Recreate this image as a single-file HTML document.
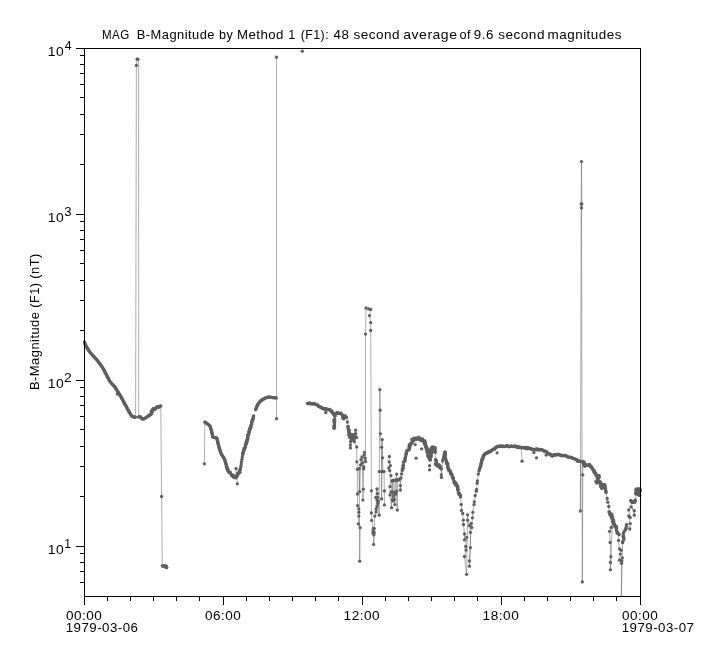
<!DOCTYPE html>
<html><head><meta charset="utf-8"><title>MAG B-Magnitude</title>
<style>
html,body{margin:0;padding:0;background:#fefefe;}
body{width:724px;height:656px;overflow:hidden;position:relative;font-family:"Liberation Sans",sans-serif;}
</style></head><body>
<svg width="724" height="656" viewBox="0 0 724 656" style="display:block;position:absolute;left:0;top:0;will-change:transform">
<rect x="0" y="0" width="724" height="656" fill="#fefefe"/>
<g fill="none" stroke="#5f5f5f" stroke-width="0.5" stroke-linejoin="bevel" stroke-linecap="butt">
<polyline points="84.5,342.0 85.3,344.5 87.5,348.5 89.9,352.1 93.3,356.0 96.8,359.7 100.0,364.0 102.9,368.1 106.0,374.0 109.7,381.1 112.5,384.5 115.1,387.2 118.0,392.0 121.2,397.1 124.0,402.5 127.3,408.5 129.5,412.5 131.8,416.1 133.5,417.0 135.6,417.2 136.4,65.4 137.1,59.2 137.9,59.2"/>
<polyline points="138.7,417.0 140.2,416.6 141.5,418.2 142.8,419.2 145.0,418.2 147.1,416.9 149.5,415.0 151.6,413.1 151.8,410.3 154.0,409.0 156.2,407.7 158.5,406.8 160.8,406.0 161.6,496.5 162.3,566.0 164.0,566.0 165.7,566.0 166.5,567.3"/>
<polyline points="204.4,463.8 204.8,422.0 207.0,423.5 209.9,425.8 211.3,430.0 213.0,437.3 216.8,438.0 218.5,445.0 220.6,452.5 222.5,456.0 224.4,458.6 226.0,464.0 227.4,469.3 229.0,472.5 231.3,474.6 233.0,476.6 235.1,476.9 237.0,476.0 238.9,473.1 240.3,470.0 240.9,466.2 241.5,461.6 242.7,454.8 244.2,450.0 245.7,444.9 247.3,439.0 248.8,432.7 250.3,428.0 251.8,422.8 253.7,415.9"/>
<polyline points="255.6,409.8 257.0,406.0 258.7,403.0 261.0,400.6 263.3,399.1 266.0,397.8 268.6,396.9 272.0,397.6 276.4,397.9"/>
<polyline points="307.5,403.3 311.0,403.4 314.4,403.9 317.5,405.3 320.5,407.4 323.5,408.6 325.9,409.2 328.5,409.4 330.5,410.1 332.5,412.6 334.1,415.1 334.6,419.2 333.8,420.6 334.8,421.6 334.1,422.4 334.6,424.0 334.1,425.6 333.8,427.0 334.5,427.2 334.1,428.4 334.6,416.0 336.0,413.4 337.8,412.8 340.0,413.2 341.9,414.2 343.8,418.8 344.8,416.0 346.5,417.4 347.4,422.0 347.9,426.6 348.8,431.1 349.2,435.3 350.2,437.5 351.3,435.6 352.4,434.8 353.3,436.0 354.3,437.5 355.4,436.5 355.6,430.2 355.6,433.4 356.6,437.5 354.3,441.7 356.7,447.0 356.9,461.8 357.4,469.3 357.4,494.0 357.6,505.6 358.8,508.8 358.8,512.2 358.8,516.1 358.3,523.9 360.1,527.7 359.7,561.2 359.2,468.5 359.7,491.7 360.6,465.0 361.0,459.7 362.0,456.9 362.4,462.9 362.9,500.1 363.3,489.2 363.6,468.8 363.8,467.0 364.2,455.1 364.4,452.4 365.2,458.3 365.5,461.5 365.5,334.1 366.0,308.0 368.7,308.9 370.7,309.5 369.5,315.6 370.7,322.6 370.7,330.5 371.4,490.8 371.4,512.9 371.6,520.4 373.4,528.4 372.9,533.0 373.9,534.8 373.6,544.4 374.8,516.1 376.1,512.0 376.1,509.2 376.6,497.3 375.7,497.6 377.0,489.0 377.5,493.7 378.4,501.4 379.2,515.2 379.3,471.6 379.8,389.6 380.2,410.2 380.4,433.8 381.6,447.3 381.6,471.6 381.6,498.9 382.2,439.6 382.5,457.8 383.0,471.6 384.0,471.6 384.4,490.9 384.4,504.9"/>
<polyline points="389.4,456.5 389.2,462.0 390.4,465.6 388.8,468.0 389.7,470.7 390.9,475.6 390.0,486.6 390.0,494.9 391.6,507.7 392.0,481.0 392.5,499.8 393.0,480.5 393.7,480.2 394.3,492.4 394.9,504.6 395.4,480.5 396.0,480.0 396.7,474.1 396.7,491.2 397.3,510.1 397.3,480.2 398.2,480.0 399.0,479.5 399.8,479.0 400.4,485.7 400.4,490.0 400.9,478.0 401.6,474.0 402.2,470.5 403.3,466.6 404.2,461.1 405.6,456.5 406.5,452.0 409.2,449.7 409.2,445.6 411.5,443.3 413.4,439.1 416.0,438.5 418.9,438.7 422.5,440.1 425.3,443.3 426.6,447.8 427.1,452.0 428.9,456.5 429.8,459.3 430.7,454.7 431.7,448.3 433.3,447.9 434.9,448.3 435.3,452.0 435.6,459.7 436.7,464.8 439.4,465.2 441.1,468.3 441.3,474.8 441.5,477.4 442.6,461.1 443.5,458.3 444.4,453.5 444.8,452.2 445.3,454.0 445.3,457.0 446.6,462.0 448.4,468.7 450.9,472.9 453.3,479.6 455.2,483.0 457.0,486.3 459.4,493.7 460.6,496.7 461.2,504.6 461.5,510.5 462.7,513.5 463.3,520.2 463.5,524.5 464.5,534.0 464.5,539.8 466.7,537.3 465.7,546.5 466.0,550.1 464.5,556.5 466.6,574.3 467.6,514.8 467.6,520.2 469.4,525.7 470.4,532.4 470.4,547.7 469.4,560.9 469.4,566.2 471.2,523.3 471.8,527.6 472.4,517.8 472.8,512.3 474.0,504.6 474.3,501.8 475.2,495.5 476.3,491.2 476.5,489.4 477.2,483.2 477.4,480.9 478.3,474.1 479.0,471.0 480.1,467.4 482.0,460.1 483.5,456.5 485.0,454.0 487.5,452.5 489.9,451.6 493.5,449.2 497.2,446.7 500.0,446.3 503.3,446.1 510.2,446.3 514.3,446.5 520.9,447.1 525.5,447.8 530.1,448.7 535.4,449.2 540.7,449.7 543.8,450.8 546.8,452.0 549.0,453.9 551.4,455.8 554.5,454.6 557.5,454.3 560.5,455.0 563.6,455.8 567.4,456.5 571.2,457.3 574.9,458.9 578.1,461.2 580.5,461.6 580.4,511.0 581.2,204.0 581.5,161.6 581.8,204.0 581.5,207.9 582.3,581.9 582.8,474.8 582.6,462.0 584.0,462.0 584.6,466.0 587.0,465.3 589.5,464.4 591.6,467.5 593.8,470.5 596.2,475.4 599.3,476.0 596.2,481.5 600.5,482.1 601.7,487.6 604.8,485.1 606.0,492.4 607.2,498.5 607.8,502.2 608.8,506.5 609.0,512.0 611.9,516.0 613.4,520.6 614.2,524.4 613.4,520.6 611.2,527.4 609.6,531.3 610.1,542.4 610.9,556.7 610.4,562.5 610.4,569.8 612.4,521.5 614.2,524.4 616.5,527.4 616.5,530.5 619.1,534.3 618.5,540.4 619.5,548.8 621.1,550.3 620.3,554.1 619.5,560.2 622.3,557.9 621.8,561.0 621.5,563.3 621.4,596.0 622.6,542.7 623.7,538.9 623.4,532.8 625.6,529.7 626.7,524.4 629.8,529.0 630.2,523.6 628.7,516.0 630.2,517.5 628.7,509.9 631.0,506.9 634.3,510.7 634.3,515.2 630.8,500.5 632.5,502.3 634.0,502.2 635.3,500.0 636.0,494.0 637.1,489.0 638.9,494.5 637.5,492.0 639.6,489.0 639.8,495.0"/>
<polyline points="276.5,57.2 276.5,418.7"/>
<polyline points="138.6,60.5 138.7,417.0"/>
<polyline points="236.1,468.5 236.3,476.5"/>
<polyline points="237.3,483.8 237.2,476.0"/>
<polyline points="350.6,439.0 350.4,447.9"/>
<polyline points="521.0,447.2 522.1,461.2"/>
</g>
<g fill="#5f5f5f" stroke="none">
<circle cx="84.5" cy="342.0" r="1.65"/><circle cx="84.8" cy="342.8" r="1.65"/><circle cx="85.0" cy="343.7" r="1.65"/><circle cx="85.3" cy="344.5" r="1.65"/><circle cx="85.7" cy="345.2" r="1.65"/><circle cx="86.0" cy="345.8" r="1.65"/><circle cx="86.4" cy="346.5" r="1.65"/><circle cx="86.8" cy="347.2" r="1.65"/><circle cx="87.1" cy="347.8" r="1.65"/><circle cx="87.5" cy="348.5" r="1.65"/><circle cx="88.0" cy="349.2" r="1.65"/><circle cx="88.5" cy="349.9" r="1.65"/><circle cx="88.9" cy="350.7" r="1.65"/><circle cx="89.4" cy="351.4" r="1.65"/><circle cx="89.9" cy="352.1" r="1.65"/><circle cx="90.5" cy="352.8" r="1.65"/><circle cx="91.0" cy="353.4" r="1.65"/><circle cx="91.6" cy="354.1" r="1.65"/><circle cx="92.2" cy="354.7" r="1.65"/><circle cx="92.7" cy="355.4" r="1.65"/><circle cx="93.3" cy="356.0" r="1.65"/><circle cx="93.9" cy="356.6" r="1.65"/><circle cx="94.5" cy="357.2" r="1.65"/><circle cx="95.0" cy="357.9" r="1.65"/><circle cx="95.6" cy="358.5" r="1.65"/><circle cx="96.2" cy="359.1" r="1.65"/><circle cx="96.8" cy="359.7" r="1.65"/><circle cx="97.3" cy="360.4" r="1.65"/><circle cx="97.9" cy="361.1" r="1.65"/><circle cx="98.4" cy="361.9" r="1.65"/><circle cx="98.9" cy="362.6" r="1.65"/><circle cx="99.5" cy="363.3" r="1.65"/><circle cx="100.0" cy="364.0" r="1.65"/><circle cx="100.5" cy="364.7" r="1.65"/><circle cx="101.0" cy="365.4" r="1.65"/><circle cx="101.5" cy="366.1" r="1.65"/><circle cx="101.9" cy="366.7" r="1.65"/><circle cx="102.4" cy="367.4" r="1.65"/><circle cx="102.9" cy="368.1" r="1.65"/><circle cx="103.3" cy="368.8" r="1.65"/><circle cx="103.7" cy="369.6" r="1.65"/><circle cx="104.1" cy="370.3" r="1.65"/><circle cx="104.5" cy="371.1" r="1.65"/><circle cx="104.8" cy="371.8" r="1.65"/><circle cx="105.2" cy="372.5" r="1.65"/><circle cx="105.6" cy="373.3" r="1.65"/><circle cx="106.0" cy="374.0" r="1.65"/><circle cx="106.4" cy="374.8" r="1.65"/><circle cx="106.8" cy="375.6" r="1.65"/><circle cx="107.2" cy="376.4" r="1.65"/><circle cx="107.6" cy="377.2" r="1.65"/><circle cx="108.1" cy="377.9" r="1.65"/><circle cx="108.5" cy="378.7" r="1.65"/><circle cx="108.9" cy="379.5" r="1.65"/><circle cx="109.3" cy="380.3" r="1.65"/><circle cx="109.7" cy="381.1" r="1.65"/><circle cx="110.3" cy="381.8" r="1.65"/><circle cx="110.8" cy="382.5" r="1.65"/><circle cx="111.4" cy="383.1" r="1.65"/><circle cx="111.9" cy="383.8" r="1.65"/><circle cx="112.5" cy="384.5" r="1.65"/><circle cx="113.0" cy="385.0" r="1.65"/><circle cx="113.5" cy="385.6" r="1.65"/><circle cx="114.1" cy="386.1" r="1.65"/><circle cx="114.6" cy="386.7" r="1.65"/><circle cx="115.1" cy="387.2" r="1.65"/><circle cx="115.5" cy="387.9" r="1.65"/><circle cx="115.9" cy="388.6" r="1.65"/><circle cx="116.3" cy="389.3" r="1.65"/><circle cx="116.8" cy="389.9" r="1.65"/><circle cx="117.2" cy="390.6" r="1.65"/><circle cx="117.6" cy="391.3" r="1.65"/><circle cx="118.0" cy="392.0" r="1.65"/><circle cx="118.5" cy="392.7" r="1.65"/><circle cx="118.9" cy="393.5" r="1.65"/><circle cx="119.4" cy="394.2" r="1.65"/><circle cx="119.8" cy="394.9" r="1.65"/><circle cx="120.3" cy="395.6" r="1.65"/><circle cx="120.7" cy="396.4" r="1.65"/><circle cx="121.2" cy="397.1" r="1.65"/><circle cx="121.6" cy="397.9" r="1.65"/><circle cx="122.0" cy="398.6" r="1.65"/><circle cx="122.4" cy="399.4" r="1.65"/><circle cx="122.8" cy="400.2" r="1.65"/><circle cx="123.2" cy="401.0" r="1.65"/><circle cx="123.6" cy="401.7" r="1.65"/><circle cx="124.0" cy="402.5" r="1.65"/><circle cx="124.4" cy="403.2" r="1.65"/><circle cx="124.8" cy="404.0" r="1.65"/><circle cx="125.2" cy="404.8" r="1.65"/><circle cx="125.7" cy="405.5" r="1.65"/><circle cx="126.1" cy="406.2" r="1.65"/><circle cx="126.5" cy="407.0" r="1.65"/><circle cx="126.9" cy="407.8" r="1.65"/><circle cx="127.3" cy="408.5" r="1.65"/><circle cx="127.7" cy="409.2" r="1.65"/><circle cx="128.0" cy="409.8" r="1.65"/><circle cx="128.4" cy="410.5" r="1.65"/><circle cx="128.8" cy="411.2" r="1.65"/><circle cx="129.1" cy="411.8" r="1.65"/><circle cx="129.5" cy="412.5" r="1.65"/><circle cx="130.0" cy="413.2" r="1.65"/><circle cx="130.4" cy="413.9" r="1.65"/><circle cx="130.9" cy="414.7" r="1.65"/><circle cx="131.3" cy="415.4" r="1.65"/><circle cx="131.8" cy="416.1" r="1.65"/><circle cx="132.4" cy="416.4" r="1.65"/><circle cx="132.9" cy="416.7" r="1.65"/><circle cx="133.5" cy="417.0" r="1.65"/><circle cx="134.2" cy="417.1" r="1.65"/><circle cx="134.9" cy="417.1" r="1.65"/><circle cx="135.6" cy="417.2" r="1.65"/><circle cx="136.4" cy="65.4" r="1.65"/><circle cx="137.1" cy="59.2" r="1.65"/><circle cx="137.9" cy="59.2" r="1.65"/>
<circle cx="138.7" cy="417.0" r="1.65"/><circle cx="139.4" cy="416.8" r="1.65"/><circle cx="140.2" cy="416.6" r="1.65"/><circle cx="140.6" cy="417.1" r="1.65"/><circle cx="141.1" cy="417.7" r="1.65"/><circle cx="141.5" cy="418.2" r="1.65"/><circle cx="142.2" cy="418.7" r="1.65"/><circle cx="142.8" cy="419.2" r="1.65"/><circle cx="143.5" cy="418.9" r="1.65"/><circle cx="144.3" cy="418.5" r="1.65"/><circle cx="145.0" cy="418.2" r="1.65"/><circle cx="145.7" cy="417.8" r="1.65"/><circle cx="146.4" cy="417.3" r="1.65"/><circle cx="147.1" cy="416.9" r="1.65"/><circle cx="147.7" cy="416.4" r="1.65"/><circle cx="148.3" cy="415.9" r="1.65"/><circle cx="148.9" cy="415.5" r="1.65"/><circle cx="149.5" cy="415.0" r="1.65"/><circle cx="149.6" cy="415.1" r="1.65"/><circle cx="150.2" cy="414.8" r="1.65"/><circle cx="151.2" cy="413.7" r="1.65"/><circle cx="151.1" cy="414.3" r="1.65"/><circle cx="151.6" cy="413.1" r="1.65"/><circle cx="151.8" cy="411.9" r="1.65"/><circle cx="151.3" cy="411.4" r="1.65"/><circle cx="152.1" cy="412.0" r="1.65"/><circle cx="151.4" cy="411.4" r="1.65"/><circle cx="151.8" cy="410.3" r="1.65"/><circle cx="152.8" cy="410.3" r="1.65"/><circle cx="152.8" cy="409.7" r="1.65"/><circle cx="153.1" cy="408.5" r="1.65"/><circle cx="154.0" cy="409.0" r="1.65"/><circle cx="155.0" cy="408.9" r="1.65"/><circle cx="155.1" cy="409.1" r="1.65"/><circle cx="155.6" cy="408.7" r="1.65"/><circle cx="156.2" cy="407.7" r="1.65"/><circle cx="157.1" cy="407.0" r="1.65"/><circle cx="157.1" cy="406.9" r="1.65"/><circle cx="157.7" cy="407.2" r="1.65"/><circle cx="158.5" cy="406.8" r="1.65"/><circle cx="158.9" cy="406.5" r="1.65"/><circle cx="159.3" cy="407.1" r="1.65"/><circle cx="160.1" cy="406.1" r="1.65"/><circle cx="160.8" cy="406.0" r="1.65"/><circle cx="161.6" cy="496.5" r="1.65"/><circle cx="162.3" cy="566.0" r="1.65"/><circle cx="164.0" cy="566.0" r="1.65"/><circle cx="165.7" cy="566.0" r="1.65"/><circle cx="166.5" cy="567.3" r="1.65"/>
<circle cx="204.4" cy="463.8" r="1.65"/><circle cx="204.8" cy="422.0" r="1.65"/><circle cx="205.5" cy="422.5" r="1.65"/><circle cx="206.3" cy="423.0" r="1.65"/><circle cx="207.0" cy="423.5" r="1.65"/><circle cx="207.6" cy="424.0" r="1.65"/><circle cx="208.2" cy="424.4" r="1.65"/><circle cx="208.7" cy="424.9" r="1.65"/><circle cx="209.3" cy="425.3" r="1.65"/><circle cx="209.9" cy="425.8" r="1.65"/><circle cx="210.2" cy="426.6" r="1.65"/><circle cx="210.5" cy="427.5" r="1.65"/><circle cx="210.7" cy="428.3" r="1.65"/><circle cx="211.0" cy="429.2" r="1.65"/><circle cx="211.3" cy="430.0" r="1.65"/><circle cx="211.5" cy="430.8" r="1.65"/><circle cx="211.7" cy="431.6" r="1.65"/><circle cx="211.9" cy="432.4" r="1.65"/><circle cx="212.1" cy="433.2" r="1.65"/><circle cx="212.2" cy="434.1" r="1.65"/><circle cx="212.4" cy="434.9" r="1.65"/><circle cx="212.6" cy="435.7" r="1.65"/><circle cx="212.8" cy="436.5" r="1.65"/><circle cx="213.0" cy="437.3" r="1.65"/><circle cx="213.8" cy="437.4" r="1.65"/><circle cx="214.5" cy="437.6" r="1.65"/><circle cx="215.3" cy="437.7" r="1.65"/><circle cx="216.0" cy="437.9" r="1.65"/><circle cx="216.8" cy="438.0" r="1.65"/><circle cx="217.0" cy="438.8" r="1.65"/><circle cx="217.2" cy="439.6" r="1.65"/><circle cx="217.4" cy="440.3" r="1.65"/><circle cx="217.6" cy="441.1" r="1.65"/><circle cx="217.7" cy="441.9" r="1.65"/><circle cx="217.9" cy="442.7" r="1.65"/><circle cx="218.1" cy="443.4" r="1.65"/><circle cx="218.3" cy="444.2" r="1.65"/><circle cx="218.5" cy="445.0" r="1.65"/><circle cx="218.7" cy="445.8" r="1.65"/><circle cx="219.0" cy="446.7" r="1.65"/><circle cx="219.2" cy="447.5" r="1.65"/><circle cx="219.4" cy="448.3" r="1.65"/><circle cx="219.7" cy="449.2" r="1.65"/><circle cx="219.9" cy="450.0" r="1.65"/><circle cx="220.1" cy="450.8" r="1.65"/><circle cx="220.4" cy="451.7" r="1.65"/><circle cx="220.6" cy="452.5" r="1.65"/><circle cx="221.0" cy="453.2" r="1.65"/><circle cx="221.4" cy="453.9" r="1.65"/><circle cx="221.7" cy="454.6" r="1.65"/><circle cx="222.1" cy="455.3" r="1.65"/><circle cx="222.5" cy="456.0" r="1.65"/><circle cx="223.0" cy="456.6" r="1.65"/><circle cx="223.4" cy="457.3" r="1.65"/><circle cx="223.9" cy="458.0" r="1.65"/><circle cx="224.4" cy="458.6" r="1.65"/><circle cx="224.6" cy="459.4" r="1.65"/><circle cx="224.9" cy="460.1" r="1.65"/><circle cx="225.1" cy="460.9" r="1.65"/><circle cx="225.3" cy="461.7" r="1.65"/><circle cx="225.5" cy="462.5" r="1.65"/><circle cx="225.8" cy="463.2" r="1.65"/><circle cx="226.0" cy="464.0" r="1.65"/><circle cx="226.2" cy="464.8" r="1.65"/><circle cx="226.4" cy="465.5" r="1.65"/><circle cx="226.6" cy="466.3" r="1.65"/><circle cx="226.8" cy="467.0" r="1.65"/><circle cx="227.0" cy="467.8" r="1.65"/><circle cx="227.2" cy="468.5" r="1.65"/><circle cx="227.4" cy="469.3" r="1.65"/><circle cx="227.4" cy="468.9" r="1.65"/><circle cx="228.0" cy="469.7" r="1.65"/><circle cx="227.7" cy="470.0" r="1.65"/><circle cx="227.9" cy="470.7" r="1.65"/><circle cx="228.5" cy="471.5" r="1.65"/><circle cx="229.0" cy="472.5" r="1.65"/><circle cx="229.8" cy="472.4" r="1.65"/><circle cx="229.9" cy="472.5" r="1.65"/><circle cx="230.2" cy="472.5" r="1.65"/><circle cx="230.5" cy="472.9" r="1.65"/><circle cx="231.3" cy="474.6" r="1.65"/><circle cx="232.0" cy="475.2" r="1.65"/><circle cx="231.7" cy="475.5" r="1.65"/><circle cx="233.1" cy="475.1" r="1.65"/><circle cx="233.0" cy="476.6" r="1.65"/><circle cx="233.9" cy="476.5" r="1.65"/><circle cx="234.0" cy="477.6" r="1.65"/><circle cx="234.4" cy="476.8" r="1.65"/><circle cx="235.1" cy="476.9" r="1.65"/><circle cx="235.8" cy="477.9" r="1.65"/><circle cx="235.8" cy="477.3" r="1.65"/><circle cx="236.8" cy="476.6" r="1.65"/><circle cx="237.0" cy="476.0" r="1.65"/><circle cx="237.3" cy="475.0" r="1.65"/><circle cx="237.2" cy="473.9" r="1.65"/><circle cx="237.6" cy="474.9" r="1.65"/><circle cx="238.2" cy="472.8" r="1.65"/><circle cx="238.9" cy="473.1" r="1.65"/><circle cx="238.6" cy="473.4" r="1.65"/><circle cx="239.9" cy="472.3" r="1.65"/><circle cx="239.5" cy="470.6" r="1.65"/><circle cx="239.8" cy="470.5" r="1.65"/><circle cx="240.3" cy="470.0" r="1.65"/><circle cx="240.6" cy="468.1" r="1.65"/><circle cx="240.9" cy="466.2" r="1.65"/><circle cx="241.2" cy="463.9" r="1.65"/><circle cx="241.5" cy="461.6" r="1.65"/><circle cx="241.9" cy="459.3" r="1.65"/><circle cx="242.3" cy="457.1" r="1.65"/><circle cx="242.7" cy="454.8" r="1.65"/><circle cx="242.8" cy="453.9" r="1.65"/><circle cx="242.7" cy="453.2" r="1.65"/><circle cx="243.3" cy="452.7" r="1.65"/><circle cx="243.3" cy="452.1" r="1.65"/><circle cx="243.4" cy="451.0" r="1.65"/><circle cx="243.7" cy="450.5" r="1.65"/><circle cx="244.2" cy="450.0" r="1.65"/><circle cx="244.0" cy="448.5" r="1.65"/><circle cx="244.5" cy="448.1" r="1.65"/><circle cx="244.9" cy="447.9" r="1.65"/><circle cx="245.3" cy="447.3" r="1.65"/><circle cx="245.4" cy="447.0" r="1.65"/><circle cx="245.4" cy="445.4" r="1.65"/><circle cx="245.7" cy="444.9" r="1.65"/><circle cx="246.3" cy="443.6" r="1.65"/><circle cx="246.3" cy="443.7" r="1.65"/><circle cx="245.9" cy="443.2" r="1.65"/><circle cx="246.8" cy="442.2" r="1.65"/><circle cx="246.9" cy="441.7" r="1.65"/><circle cx="246.6" cy="440.5" r="1.65"/><circle cx="247.1" cy="440.3" r="1.65"/><circle cx="247.3" cy="439.0" r="1.65"/><circle cx="247.7" cy="438.8" r="1.65"/><circle cx="247.7" cy="438.2" r="1.65"/><circle cx="247.9" cy="437.2" r="1.65"/><circle cx="247.8" cy="435.4" r="1.65"/><circle cx="247.8" cy="435.3" r="1.65"/><circle cx="248.0" cy="435.3" r="1.65"/><circle cx="248.5" cy="434.3" r="1.65"/><circle cx="248.7" cy="433.7" r="1.65"/><circle cx="248.8" cy="432.7" r="1.65"/><circle cx="249.0" cy="431.2" r="1.65"/><circle cx="249.5" cy="431.8" r="1.65"/><circle cx="249.4" cy="430.7" r="1.65"/><circle cx="249.8" cy="429.3" r="1.65"/><circle cx="250.1" cy="428.9" r="1.65"/><circle cx="249.7" cy="428.3" r="1.65"/><circle cx="250.3" cy="428.0" r="1.65"/><circle cx="250.7" cy="426.8" r="1.65"/><circle cx="250.9" cy="427.3" r="1.65"/><circle cx="250.9" cy="425.6" r="1.65"/><circle cx="251.1" cy="425.3" r="1.65"/><circle cx="251.6" cy="424.5" r="1.65"/><circle cx="251.7" cy="422.9" r="1.65"/><circle cx="251.8" cy="422.8" r="1.65"/><circle cx="251.7" cy="421.6" r="1.65"/><circle cx="252.4" cy="421.0" r="1.65"/><circle cx="252.5" cy="419.7" r="1.65"/><circle cx="252.3" cy="419.4" r="1.65"/><circle cx="253.0" cy="419.3" r="1.65"/><circle cx="253.2" cy="417.9" r="1.65"/><circle cx="253.3" cy="417.4" r="1.65"/><circle cx="253.5" cy="416.1" r="1.65"/><circle cx="253.7" cy="415.9" r="1.65"/>
<circle cx="255.6" cy="409.8" r="1.65"/><circle cx="255.9" cy="409.0" r="1.65"/><circle cx="256.2" cy="408.3" r="1.65"/><circle cx="256.4" cy="407.5" r="1.65"/><circle cx="256.7" cy="406.8" r="1.65"/><circle cx="257.0" cy="406.0" r="1.65"/><circle cx="257.4" cy="405.2" r="1.65"/><circle cx="257.9" cy="404.5" r="1.65"/><circle cx="258.3" cy="403.8" r="1.65"/><circle cx="258.7" cy="403.0" r="1.65"/><circle cx="259.3" cy="402.4" r="1.65"/><circle cx="259.9" cy="401.8" r="1.65"/><circle cx="260.4" cy="401.2" r="1.65"/><circle cx="261.0" cy="400.6" r="1.65"/><circle cx="261.6" cy="400.2" r="1.65"/><circle cx="262.1" cy="399.9" r="1.65"/><circle cx="262.7" cy="399.5" r="1.65"/><circle cx="263.3" cy="399.1" r="1.65"/><circle cx="264.0" cy="398.8" r="1.65"/><circle cx="264.6" cy="398.5" r="1.65"/><circle cx="265.3" cy="398.1" r="1.65"/><circle cx="266.0" cy="397.8" r="1.65"/><circle cx="266.6" cy="397.6" r="1.65"/><circle cx="267.3" cy="397.4" r="1.65"/><circle cx="268.0" cy="397.1" r="1.65"/><circle cx="268.6" cy="396.9" r="1.65"/><circle cx="269.5" cy="397.1" r="1.65"/><circle cx="270.3" cy="397.2" r="1.65"/><circle cx="271.1" cy="397.4" r="1.65"/><circle cx="272.0" cy="397.6" r="1.65"/><circle cx="272.9" cy="397.7" r="1.65"/><circle cx="273.8" cy="397.7" r="1.65"/><circle cx="274.6" cy="397.8" r="1.65"/><circle cx="275.5" cy="397.8" r="1.65"/><circle cx="276.4" cy="397.9" r="1.65"/>
<circle cx="307.5" cy="403.3" r="1.65"/><circle cx="308.1" cy="403.8" r="1.65"/><circle cx="308.8" cy="403.1" r="1.65"/><circle cx="309.6" cy="403.0" r="1.65"/><circle cx="310.2" cy="403.8" r="1.65"/><circle cx="311.0" cy="403.4" r="1.65"/><circle cx="311.9" cy="403.8" r="1.65"/><circle cx="312.4" cy="404.0" r="1.65"/><circle cx="313.3" cy="403.7" r="1.65"/><circle cx="313.8" cy="403.3" r="1.65"/><circle cx="314.4" cy="403.9" r="1.65"/><circle cx="315.1" cy="404.1" r="1.65"/><circle cx="315.8" cy="404.6" r="1.65"/><circle cx="316.2" cy="404.3" r="1.65"/><circle cx="317.1" cy="404.6" r="1.65"/><circle cx="317.5" cy="405.3" r="1.65"/><circle cx="318.1" cy="405.6" r="1.65"/><circle cx="318.6" cy="406.4" r="1.65"/><circle cx="319.5" cy="406.3" r="1.65"/><circle cx="320.0" cy="406.8" r="1.65"/><circle cx="320.5" cy="407.4" r="1.65"/><circle cx="321.1" cy="407.5" r="1.65"/><circle cx="321.5" cy="407.5" r="1.65"/><circle cx="322.2" cy="408.5" r="1.65"/><circle cx="322.9" cy="408.1" r="1.65"/><circle cx="323.5" cy="408.6" r="1.65"/><circle cx="324.3" cy="409.2" r="1.65"/><circle cx="324.7" cy="408.5" r="1.65"/><circle cx="325.1" cy="408.6" r="1.65"/><circle cx="325.9" cy="409.2" r="1.65"/><circle cx="326.5" cy="408.8" r="1.65"/><circle cx="327.1" cy="409.1" r="1.65"/><circle cx="327.9" cy="409.7" r="1.65"/><circle cx="328.5" cy="409.4" r="1.65"/><circle cx="329.3" cy="409.5" r="1.65"/><circle cx="329.8" cy="409.9" r="1.65"/><circle cx="330.5" cy="410.1" r="1.65"/><circle cx="330.8" cy="410.4" r="1.65"/><circle cx="331.1" cy="410.9" r="1.65"/><circle cx="331.9" cy="411.2" r="1.65"/><circle cx="332.1" cy="412.2" r="1.65"/><circle cx="332.5" cy="412.6" r="1.65"/><circle cx="333.1" cy="412.9" r="1.65"/><circle cx="333.2" cy="413.6" r="1.65"/><circle cx="333.6" cy="414.4" r="1.65"/><circle cx="334.1" cy="415.1" r="1.65"/><circle cx="334.6" cy="419.2" r="1.65"/><circle cx="333.8" cy="420.6" r="1.65"/><circle cx="334.8" cy="421.6" r="1.65"/><circle cx="334.1" cy="422.4" r="1.65"/><circle cx="334.6" cy="424.0" r="1.65"/><circle cx="334.1" cy="425.6" r="1.65"/><circle cx="333.8" cy="427.0" r="1.65"/><circle cx="334.5" cy="427.2" r="1.65"/><circle cx="334.1" cy="428.4" r="1.65"/><circle cx="334.6" cy="416.0" r="1.65"/><circle cx="335.3" cy="415.8" r="1.65"/><circle cx="335.6" cy="414.0" r="1.65"/><circle cx="335.3" cy="414.3" r="1.65"/><circle cx="336.0" cy="413.4" r="1.65"/><circle cx="336.9" cy="413.2" r="1.65"/><circle cx="337.3" cy="412.3" r="1.65"/><circle cx="337.8" cy="412.8" r="1.65"/><circle cx="338.5" cy="413.5" r="1.65"/><circle cx="339.5" cy="413.6" r="1.65"/><circle cx="340.0" cy="413.2" r="1.65"/><circle cx="341.0" cy="413.2" r="1.65"/><circle cx="341.0" cy="413.4" r="1.65"/><circle cx="341.9" cy="414.2" r="1.65"/><circle cx="342.2" cy="415.1" r="1.65"/><circle cx="342.8" cy="415.8" r="1.65"/><circle cx="342.8" cy="416.5" r="1.65"/><circle cx="343.0" cy="416.9" r="1.65"/><circle cx="342.9" cy="417.9" r="1.65"/><circle cx="343.3" cy="418.7" r="1.65"/><circle cx="343.8" cy="418.8" r="1.65"/><circle cx="344.2" cy="417.8" r="1.65"/><circle cx="344.0" cy="417.1" r="1.65"/><circle cx="344.6" cy="417.0" r="1.65"/><circle cx="344.8" cy="416.0" r="1.65"/><circle cx="345.1" cy="415.9" r="1.65"/><circle cx="346.0" cy="417.0" r="1.65"/><circle cx="346.5" cy="417.4" r="1.65"/><circle cx="347.4" cy="422.0" r="1.65"/><circle cx="347.9" cy="426.6" r="1.65"/><circle cx="347.9" cy="426.6" r="1.65"/><circle cx="348.3" cy="426.7" r="1.65"/><circle cx="348.1" cy="428.7" r="1.65"/><circle cx="349.1" cy="430.0" r="1.65"/><circle cx="349.2" cy="430.3" r="1.65"/><circle cx="348.8" cy="431.1" r="1.65"/><circle cx="348.5" cy="431.1" r="1.65"/><circle cx="349.6" cy="433.1" r="1.65"/><circle cx="348.7" cy="431.9" r="1.65"/><circle cx="349.1" cy="434.4" r="1.65"/><circle cx="349.0" cy="433.9" r="1.65"/><circle cx="349.2" cy="435.3" r="1.65"/><circle cx="349.7" cy="437.0" r="1.65"/><circle cx="349.3" cy="435.1" r="1.65"/><circle cx="349.7" cy="436.7" r="1.65"/><circle cx="350.2" cy="437.5" r="1.65"/><circle cx="350.8" cy="436.0" r="1.65"/><circle cx="351.3" cy="436.9" r="1.65"/><circle cx="351.3" cy="435.6" r="1.65"/><circle cx="351.9" cy="434.4" r="1.65"/><circle cx="352.4" cy="434.8" r="1.65"/><circle cx="353.5" cy="434.9" r="1.65"/><circle cx="353.3" cy="436.0" r="1.65"/><circle cx="354.1" cy="435.7" r="1.65"/><circle cx="353.6" cy="437.7" r="1.65"/><circle cx="354.3" cy="437.5" r="1.65"/><circle cx="354.6" cy="438.3" r="1.65"/><circle cx="355.4" cy="436.5" r="1.65"/><circle cx="355.6" cy="430.2" r="1.65"/><circle cx="355.6" cy="433.4" r="1.65"/><circle cx="356.6" cy="437.5" r="1.65"/><circle cx="354.3" cy="441.7" r="1.65"/><circle cx="356.7" cy="447.0" r="1.65"/><circle cx="356.9" cy="461.8" r="1.65"/><circle cx="357.4" cy="469.3" r="1.65"/><circle cx="357.4" cy="494.0" r="1.65"/><circle cx="357.6" cy="505.6" r="1.65"/><circle cx="358.8" cy="508.8" r="1.65"/><circle cx="358.8" cy="512.2" r="1.65"/><circle cx="358.8" cy="516.1" r="1.65"/><circle cx="358.3" cy="523.9" r="1.65"/><circle cx="360.1" cy="527.7" r="1.65"/><circle cx="359.7" cy="561.2" r="1.65"/><circle cx="359.2" cy="468.5" r="1.65"/><circle cx="359.7" cy="491.7" r="1.65"/><circle cx="360.6" cy="465.0" r="1.65"/><circle cx="361.0" cy="459.7" r="1.65"/><circle cx="362.0" cy="456.9" r="1.65"/><circle cx="362.4" cy="462.9" r="1.65"/><circle cx="362.9" cy="500.1" r="1.65"/><circle cx="363.3" cy="489.2" r="1.65"/><circle cx="363.6" cy="468.8" r="1.65"/><circle cx="363.8" cy="467.0" r="1.65"/><circle cx="364.2" cy="455.1" r="1.65"/><circle cx="364.4" cy="452.4" r="1.65"/><circle cx="365.2" cy="458.3" r="1.65"/><circle cx="365.5" cy="461.5" r="1.65"/><circle cx="365.5" cy="334.1" r="1.65"/><circle cx="366.0" cy="308.0" r="1.65"/><circle cx="368.7" cy="308.9" r="1.65"/><circle cx="370.7" cy="309.5" r="1.65"/><circle cx="369.5" cy="315.6" r="1.65"/><circle cx="370.7" cy="322.6" r="1.65"/><circle cx="370.7" cy="330.5" r="1.65"/><circle cx="371.4" cy="490.8" r="1.65"/><circle cx="371.4" cy="512.9" r="1.65"/><circle cx="371.6" cy="520.4" r="1.65"/><circle cx="373.4" cy="528.4" r="1.65"/><circle cx="372.9" cy="533.0" r="1.65"/><circle cx="373.9" cy="534.8" r="1.65"/><circle cx="373.6" cy="544.4" r="1.65"/><circle cx="374.8" cy="516.1" r="1.65"/><circle cx="376.1" cy="512.0" r="1.65"/><circle cx="376.1" cy="509.2" r="1.65"/><circle cx="376.6" cy="497.3" r="1.65"/><circle cx="375.7" cy="497.6" r="1.65"/><circle cx="377.0" cy="489.0" r="1.65"/><circle cx="377.5" cy="493.7" r="1.65"/><circle cx="378.4" cy="501.4" r="1.65"/><circle cx="379.2" cy="515.2" r="1.65"/><circle cx="379.3" cy="471.6" r="1.65"/><circle cx="379.8" cy="389.6" r="1.65"/><circle cx="380.2" cy="410.2" r="1.65"/><circle cx="380.4" cy="433.8" r="1.65"/><circle cx="381.6" cy="447.3" r="1.65"/><circle cx="381.6" cy="471.6" r="1.65"/><circle cx="381.6" cy="498.9" r="1.65"/><circle cx="382.2" cy="439.6" r="1.65"/><circle cx="382.5" cy="457.8" r="1.65"/><circle cx="383.0" cy="471.6" r="1.65"/><circle cx="384.0" cy="471.6" r="1.65"/><circle cx="384.4" cy="490.9" r="1.65"/><circle cx="384.4" cy="504.9" r="1.65"/>
<circle cx="389.4" cy="456.5" r="1.65"/><circle cx="389.2" cy="462.0" r="1.65"/><circle cx="390.4" cy="465.6" r="1.65"/><circle cx="388.8" cy="468.0" r="1.65"/><circle cx="389.7" cy="470.7" r="1.65"/><circle cx="390.9" cy="475.6" r="1.65"/><circle cx="390.0" cy="486.6" r="1.65"/><circle cx="390.0" cy="494.9" r="1.65"/><circle cx="391.6" cy="507.7" r="1.65"/><circle cx="392.0" cy="481.0" r="1.65"/><circle cx="392.5" cy="499.8" r="1.65"/><circle cx="393.0" cy="480.5" r="1.65"/><circle cx="393.7" cy="480.2" r="1.65"/><circle cx="394.3" cy="492.4" r="1.65"/><circle cx="394.9" cy="504.6" r="1.65"/><circle cx="395.4" cy="480.5" r="1.65"/><circle cx="396.0" cy="480.0" r="1.65"/><circle cx="396.7" cy="474.1" r="1.65"/><circle cx="396.7" cy="491.2" r="1.65"/><circle cx="397.3" cy="510.1" r="1.65"/><circle cx="397.3" cy="480.2" r="1.65"/><circle cx="398.2" cy="480.0" r="1.65"/><circle cx="399.0" cy="479.5" r="1.65"/><circle cx="399.8" cy="479.0" r="1.65"/><circle cx="400.4" cy="485.7" r="1.65"/><circle cx="400.4" cy="490.0" r="1.65"/><circle cx="400.9" cy="478.0" r="1.65"/><circle cx="401.6" cy="474.0" r="1.65"/><circle cx="402.2" cy="470.5" r="1.65"/><circle cx="402.5" cy="468.9" r="1.65"/><circle cx="402.5" cy="468.4" r="1.65"/><circle cx="403.2" cy="468.5" r="1.65"/><circle cx="403.3" cy="466.6" r="1.65"/><circle cx="403.1" cy="465.3" r="1.65"/><circle cx="403.4" cy="465.3" r="1.65"/><circle cx="403.5" cy="462.4" r="1.65"/><circle cx="403.6" cy="462.0" r="1.65"/><circle cx="404.2" cy="461.1" r="1.65"/><circle cx="404.9" cy="460.9" r="1.65"/><circle cx="405.0" cy="460.3" r="1.65"/><circle cx="405.5" cy="458.0" r="1.65"/><circle cx="405.0" cy="458.3" r="1.65"/><circle cx="405.6" cy="456.5" r="1.65"/><circle cx="406.1" cy="454.4" r="1.65"/><circle cx="406.2" cy="454.0" r="1.65"/><circle cx="406.1" cy="452.8" r="1.65"/><circle cx="406.5" cy="452.0" r="1.65"/><circle cx="407.1" cy="450.2" r="1.65"/><circle cx="408.1" cy="450.2" r="1.65"/><circle cx="409.2" cy="449.7" r="1.65"/><circle cx="409.7" cy="447.9" r="1.65"/><circle cx="409.7" cy="447.1" r="1.65"/><circle cx="409.1" cy="447.3" r="1.65"/><circle cx="409.2" cy="445.6" r="1.65"/><circle cx="410.2" cy="444.9" r="1.65"/><circle cx="409.4" cy="444.6" r="1.65"/><circle cx="410.4" cy="445.6" r="1.65"/><circle cx="410.5" cy="443.3" r="1.65"/><circle cx="411.5" cy="443.3" r="1.65"/><circle cx="412.4" cy="441.2" r="1.65"/><circle cx="411.9" cy="443.1" r="1.65"/><circle cx="412.7" cy="440.0" r="1.65"/><circle cx="411.8" cy="439.5" r="1.65"/><circle cx="413.5" cy="439.5" r="1.65"/><circle cx="413.5" cy="441.0" r="1.65"/><circle cx="413.4" cy="439.1" r="1.65"/><circle cx="413.8" cy="438.2" r="1.65"/><circle cx="415.4" cy="439.2" r="1.65"/><circle cx="415.0" cy="439.3" r="1.65"/><circle cx="416.0" cy="438.5" r="1.65"/><circle cx="416.3" cy="437.8" r="1.65"/><circle cx="416.4" cy="439.4" r="1.65"/><circle cx="418.4" cy="439.0" r="1.65"/><circle cx="419.0" cy="437.1" r="1.65"/><circle cx="418.9" cy="438.7" r="1.65"/><circle cx="419.1" cy="438.9" r="1.65"/><circle cx="420.8" cy="440.6" r="1.65"/><circle cx="420.5" cy="438.6" r="1.65"/><circle cx="421.2" cy="439.6" r="1.65"/><circle cx="422.6" cy="438.9" r="1.65"/><circle cx="422.5" cy="440.1" r="1.65"/><circle cx="423.4" cy="441.3" r="1.65"/><circle cx="423.8" cy="441.9" r="1.65"/><circle cx="423.9" cy="440.9" r="1.65"/><circle cx="423.8" cy="441.5" r="1.65"/><circle cx="425.0" cy="441.0" r="1.65"/><circle cx="424.4" cy="443.7" r="1.65"/><circle cx="425.3" cy="443.3" r="1.65"/><circle cx="425.1" cy="442.6" r="1.65"/><circle cx="424.9" cy="444.8" r="1.65"/><circle cx="425.6" cy="446.8" r="1.65"/><circle cx="426.7" cy="447.4" r="1.65"/><circle cx="425.9" cy="445.2" r="1.65"/><circle cx="425.8" cy="447.2" r="1.65"/><circle cx="426.6" cy="447.8" r="1.65"/><circle cx="427.0" cy="448.2" r="1.65"/><circle cx="426.3" cy="448.7" r="1.65"/><circle cx="427.0" cy="450.2" r="1.65"/><circle cx="427.3" cy="451.3" r="1.65"/><circle cx="427.2" cy="449.6" r="1.65"/><circle cx="427.6" cy="450.7" r="1.65"/><circle cx="427.1" cy="452.0" r="1.65"/><circle cx="427.5" cy="452.2" r="1.65"/><circle cx="428.0" cy="452.3" r="1.65"/><circle cx="427.5" cy="453.1" r="1.65"/><circle cx="427.6" cy="455.8" r="1.65"/><circle cx="428.5" cy="454.7" r="1.65"/><circle cx="428.5" cy="457.4" r="1.65"/><circle cx="428.9" cy="456.5" r="1.65"/><circle cx="429.1" cy="456.2" r="1.65"/><circle cx="429.8" cy="458.1" r="1.65"/><circle cx="430.2" cy="456.9" r="1.65"/><circle cx="429.6" cy="459.8" r="1.65"/><circle cx="429.8" cy="459.3" r="1.65"/><circle cx="430.5" cy="460.0" r="1.65"/><circle cx="429.3" cy="457.3" r="1.65"/><circle cx="429.6" cy="456.3" r="1.65"/><circle cx="431.1" cy="456.9" r="1.65"/><circle cx="431.1" cy="455.6" r="1.65"/><circle cx="431.2" cy="455.2" r="1.65"/><circle cx="430.7" cy="454.7" r="1.65"/><circle cx="430.4" cy="454.9" r="1.65"/><circle cx="431.6" cy="452.2" r="1.65"/><circle cx="431.2" cy="453.2" r="1.65"/><circle cx="430.6" cy="451.7" r="1.65"/><circle cx="430.6" cy="450.6" r="1.65"/><circle cx="430.9" cy="451.2" r="1.65"/><circle cx="431.6" cy="449.3" r="1.65"/><circle cx="430.7" cy="449.0" r="1.65"/><circle cx="431.9" cy="447.9" r="1.65"/><circle cx="431.7" cy="448.3" r="1.65"/><circle cx="431.9" cy="447.2" r="1.65"/><circle cx="433.2" cy="448.2" r="1.65"/><circle cx="433.3" cy="447.9" r="1.65"/><circle cx="433.1" cy="446.8" r="1.65"/><circle cx="434.2" cy="448.3" r="1.65"/><circle cx="434.9" cy="448.3" r="1.65"/><circle cx="435.2" cy="447.6" r="1.65"/><circle cx="434.5" cy="450.2" r="1.65"/><circle cx="435.0" cy="449.5" r="1.65"/><circle cx="434.9" cy="452.2" r="1.65"/><circle cx="434.9" cy="451.6" r="1.65"/><circle cx="435.3" cy="452.0" r="1.65"/><circle cx="435.6" cy="459.7" r="1.65"/><circle cx="435.5" cy="460.0" r="1.65"/><circle cx="436.5" cy="462.6" r="1.65"/><circle cx="435.7" cy="460.3" r="1.65"/><circle cx="436.5" cy="460.9" r="1.65"/><circle cx="435.3" cy="464.0" r="1.65"/><circle cx="436.2" cy="464.3" r="1.65"/><circle cx="436.3" cy="465.0" r="1.65"/><circle cx="436.5" cy="463.0" r="1.65"/><circle cx="436.7" cy="464.8" r="1.65"/><circle cx="436.4" cy="465.1" r="1.65"/><circle cx="438.0" cy="466.4" r="1.65"/><circle cx="437.6" cy="465.5" r="1.65"/><circle cx="438.6" cy="465.1" r="1.65"/><circle cx="439.4" cy="465.2" r="1.65"/><circle cx="439.0" cy="464.9" r="1.65"/><circle cx="440.0" cy="467.8" r="1.65"/><circle cx="439.5" cy="466.7" r="1.65"/><circle cx="441.1" cy="468.9" r="1.65"/><circle cx="440.3" cy="466.4" r="1.65"/><circle cx="441.1" cy="468.3" r="1.65"/><circle cx="441.3" cy="474.8" r="1.65"/><circle cx="441.5" cy="477.4" r="1.65"/><circle cx="442.6" cy="461.1" r="1.65"/><circle cx="443.1" cy="459.7" r="1.65"/><circle cx="443.5" cy="458.3" r="1.65"/><circle cx="443.8" cy="456.7" r="1.65"/><circle cx="444.1" cy="455.1" r="1.65"/><circle cx="444.4" cy="453.5" r="1.65"/><circle cx="444.9" cy="453.3" r="1.65"/><circle cx="444.9" cy="452.1" r="1.65"/><circle cx="444.8" cy="452.2" r="1.65"/><circle cx="445.2" cy="452.2" r="1.65"/><circle cx="445.0" cy="453.7" r="1.65"/><circle cx="445.4" cy="453.0" r="1.65"/><circle cx="445.3" cy="454.0" r="1.65"/><circle cx="445.3" cy="455.5" r="1.65"/><circle cx="445.3" cy="457.0" r="1.65"/><circle cx="445.7" cy="458.7" r="1.65"/><circle cx="446.2" cy="460.3" r="1.65"/><circle cx="446.6" cy="462.0" r="1.65"/><circle cx="447.0" cy="463.6" r="1.65"/><circle cx="446.5" cy="463.6" r="1.65"/><circle cx="447.5" cy="463.2" r="1.65"/><circle cx="447.8" cy="464.1" r="1.65"/><circle cx="447.7" cy="465.8" r="1.65"/><circle cx="447.9" cy="466.0" r="1.65"/><circle cx="447.9" cy="467.4" r="1.65"/><circle cx="448.1" cy="468.3" r="1.65"/><circle cx="448.4" cy="468.7" r="1.65"/><circle cx="448.7" cy="469.2" r="1.65"/><circle cx="448.6" cy="470.2" r="1.65"/><circle cx="449.5" cy="469.9" r="1.65"/><circle cx="450.1" cy="471.7" r="1.65"/><circle cx="450.1" cy="471.0" r="1.65"/><circle cx="450.5" cy="471.4" r="1.65"/><circle cx="450.9" cy="472.9" r="1.65"/><circle cx="450.8" cy="473.5" r="1.65"/><circle cx="451.0" cy="474.3" r="1.65"/><circle cx="451.7" cy="474.1" r="1.65"/><circle cx="452.1" cy="475.0" r="1.65"/><circle cx="452.5" cy="477.2" r="1.65"/><circle cx="452.5" cy="476.4" r="1.65"/><circle cx="452.8" cy="477.8" r="1.65"/><circle cx="453.5" cy="478.1" r="1.65"/><circle cx="453.3" cy="479.6" r="1.65"/><circle cx="454.1" cy="481.4" r="1.65"/><circle cx="454.3" cy="481.7" r="1.65"/><circle cx="454.1" cy="482.7" r="1.65"/><circle cx="454.8" cy="483.3" r="1.65"/><circle cx="455.2" cy="483.0" r="1.65"/><circle cx="456.0" cy="482.9" r="1.65"/><circle cx="456.2" cy="485.3" r="1.65"/><circle cx="455.8" cy="484.7" r="1.65"/><circle cx="456.9" cy="484.9" r="1.65"/><circle cx="457.0" cy="486.3" r="1.65"/><circle cx="457.7" cy="486.5" r="1.65"/><circle cx="457.8" cy="487.0" r="1.65"/><circle cx="457.7" cy="489.4" r="1.65"/><circle cx="457.6" cy="488.7" r="1.65"/><circle cx="458.2" cy="489.6" r="1.65"/><circle cx="457.9" cy="490.0" r="1.65"/><circle cx="458.3" cy="492.4" r="1.65"/><circle cx="459.1" cy="493.1" r="1.65"/><circle cx="458.8" cy="493.6" r="1.65"/><circle cx="459.4" cy="493.7" r="1.65"/><circle cx="459.2" cy="494.4" r="1.65"/><circle cx="460.0" cy="494.6" r="1.65"/><circle cx="460.5" cy="495.6" r="1.65"/><circle cx="460.4" cy="496.9" r="1.65"/><circle cx="460.6" cy="496.7" r="1.65"/><circle cx="461.2" cy="504.6" r="1.65"/><circle cx="461.5" cy="510.5" r="1.65"/><circle cx="462.7" cy="513.5" r="1.65"/><circle cx="463.3" cy="520.2" r="1.65"/><circle cx="463.5" cy="524.5" r="1.65"/><circle cx="464.5" cy="534.0" r="1.65"/><circle cx="464.5" cy="539.8" r="1.65"/><circle cx="466.7" cy="537.3" r="1.65"/><circle cx="465.7" cy="546.5" r="1.65"/><circle cx="466.0" cy="550.1" r="1.65"/><circle cx="464.5" cy="556.5" r="1.65"/><circle cx="466.6" cy="574.3" r="1.65"/><circle cx="467.6" cy="514.8" r="1.65"/><circle cx="467.6" cy="520.2" r="1.65"/><circle cx="469.4" cy="525.7" r="1.65"/><circle cx="470.4" cy="532.4" r="1.65"/><circle cx="470.4" cy="547.7" r="1.65"/><circle cx="469.4" cy="560.9" r="1.65"/><circle cx="469.4" cy="566.2" r="1.65"/><circle cx="471.2" cy="523.3" r="1.65"/><circle cx="471.8" cy="527.6" r="1.65"/><circle cx="472.4" cy="517.8" r="1.65"/><circle cx="472.8" cy="512.3" r="1.65"/><circle cx="474.0" cy="504.6" r="1.65"/><circle cx="474.3" cy="501.8" r="1.65"/><circle cx="475.2" cy="495.5" r="1.65"/><circle cx="476.3" cy="491.2" r="1.65"/><circle cx="476.5" cy="489.4" r="1.65"/><circle cx="477.2" cy="483.2" r="1.65"/><circle cx="477.4" cy="480.9" r="1.65"/><circle cx="478.3" cy="474.1" r="1.65"/><circle cx="479.0" cy="471.0" r="1.65"/><circle cx="479.4" cy="469.8" r="1.65"/><circle cx="479.7" cy="468.6" r="1.65"/><circle cx="480.1" cy="467.4" r="1.65"/><circle cx="480.5" cy="466.3" r="1.65"/><circle cx="480.8" cy="466.0" r="1.65"/><circle cx="480.6" cy="465.6" r="1.65"/><circle cx="480.8" cy="464.0" r="1.65"/><circle cx="481.2" cy="463.1" r="1.65"/><circle cx="481.5" cy="462.7" r="1.65"/><circle cx="481.5" cy="463.0" r="1.65"/><circle cx="481.7" cy="461.8" r="1.65"/><circle cx="481.7" cy="460.1" r="1.65"/><circle cx="482.0" cy="460.1" r="1.65"/><circle cx="482.0" cy="458.9" r="1.65"/><circle cx="482.7" cy="458.6" r="1.65"/><circle cx="482.9" cy="458.5" r="1.65"/><circle cx="482.9" cy="456.8" r="1.65"/><circle cx="483.5" cy="456.5" r="1.65"/><circle cx="484.0" cy="455.2" r="1.65"/><circle cx="483.9" cy="455.0" r="1.65"/><circle cx="484.3" cy="454.4" r="1.65"/><circle cx="485.0" cy="454.0" r="1.65"/><circle cx="485.4" cy="453.7" r="1.65"/><circle cx="486.3" cy="452.8" r="1.65"/><circle cx="487.0" cy="452.8" r="1.65"/><circle cx="487.5" cy="452.5" r="1.65"/><circle cx="487.8" cy="452.9" r="1.65"/><circle cx="488.5" cy="451.6" r="1.65"/><circle cx="489.0" cy="452.0" r="1.65"/><circle cx="489.9" cy="451.6" r="1.65"/><circle cx="490.8" cy="451.6" r="1.65"/><circle cx="491.0" cy="450.5" r="1.65"/><circle cx="491.4" cy="450.6" r="1.65"/><circle cx="492.3" cy="449.8" r="1.65"/><circle cx="493.0" cy="449.5" r="1.65"/><circle cx="493.5" cy="449.2" r="1.65"/><circle cx="494.4" cy="449.1" r="1.65"/><circle cx="494.6" cy="448.9" r="1.65"/><circle cx="495.0" cy="448.0" r="1.65"/><circle cx="495.9" cy="447.2" r="1.65"/><circle cx="496.3" cy="447.5" r="1.65"/><circle cx="497.2" cy="446.7" r="1.65"/><circle cx="497.6" cy="446.7" r="1.65"/><circle cx="498.9" cy="446.0" r="1.65"/><circle cx="499.1" cy="446.6" r="1.65"/><circle cx="500.0" cy="446.3" r="1.65"/><circle cx="500.7" cy="446.5" r="1.65"/><circle cx="501.5" cy="445.8" r="1.65"/><circle cx="501.8" cy="445.9" r="1.65"/><circle cx="502.3" cy="446.7" r="1.65"/><circle cx="503.3" cy="446.1" r="1.65"/><circle cx="504.3" cy="446.4" r="1.65"/><circle cx="504.5" cy="446.6" r="1.65"/><circle cx="505.8" cy="446.1" r="1.65"/><circle cx="506.5" cy="446.1" r="1.65"/><circle cx="506.9" cy="445.7" r="1.65"/><circle cx="507.7" cy="445.6" r="1.65"/><circle cx="508.6" cy="446.6" r="1.65"/><circle cx="509.6" cy="446.8" r="1.65"/><circle cx="510.2" cy="446.3" r="1.65"/><circle cx="511.0" cy="446.0" r="1.65"/><circle cx="511.6" cy="446.3" r="1.65"/><circle cx="512.5" cy="446.4" r="1.65"/><circle cx="512.8" cy="446.6" r="1.65"/><circle cx="513.9" cy="446.1" r="1.65"/><circle cx="514.3" cy="446.5" r="1.65"/><circle cx="515.3" cy="445.9" r="1.65"/><circle cx="515.6" cy="446.3" r="1.65"/><circle cx="516.7" cy="447.3" r="1.65"/><circle cx="517.4" cy="446.5" r="1.65"/><circle cx="518.2" cy="446.6" r="1.65"/><circle cx="518.5" cy="447.5" r="1.65"/><circle cx="519.5" cy="447.2" r="1.65"/><circle cx="520.3" cy="447.7" r="1.65"/><circle cx="520.9" cy="447.1" r="1.65"/><circle cx="521.6" cy="447.7" r="1.65"/><circle cx="522.6" cy="447.8" r="1.65"/><circle cx="523.2" cy="447.8" r="1.65"/><circle cx="524.0" cy="447.3" r="1.65"/><circle cx="524.5" cy="447.9" r="1.65"/><circle cx="525.5" cy="447.8" r="1.65"/><circle cx="526.0" cy="448.5" r="1.65"/><circle cx="526.8" cy="447.4" r="1.65"/><circle cx="527.5" cy="448.9" r="1.65"/><circle cx="528.5" cy="447.9" r="1.65"/><circle cx="529.0" cy="447.9" r="1.65"/><circle cx="530.1" cy="448.7" r="1.65"/><circle cx="531.0" cy="449.0" r="1.65"/><circle cx="531.8" cy="449.2" r="1.65"/><circle cx="532.1" cy="449.0" r="1.65"/><circle cx="533.0" cy="449.4" r="1.65"/><circle cx="534.1" cy="449.6" r="1.65"/><circle cx="534.3" cy="449.6" r="1.65"/><circle cx="535.4" cy="449.2" r="1.65"/><circle cx="536.4" cy="449.9" r="1.65"/><circle cx="536.6" cy="448.9" r="1.65"/><circle cx="537.4" cy="448.8" r="1.65"/><circle cx="538.7" cy="449.9" r="1.65"/><circle cx="539.3" cy="450.0" r="1.65"/><circle cx="540.0" cy="449.3" r="1.65"/><circle cx="540.7" cy="449.7" r="1.65"/><circle cx="541.0" cy="449.4" r="1.65"/><circle cx="542.1" cy="449.7" r="1.65"/><circle cx="542.4" cy="450.3" r="1.65"/><circle cx="542.8" cy="450.2" r="1.65"/><circle cx="543.8" cy="450.8" r="1.65"/><circle cx="544.2" cy="451.3" r="1.65"/><circle cx="544.9" cy="451.0" r="1.65"/><circle cx="545.9" cy="451.5" r="1.65"/><circle cx="546.4" cy="451.9" r="1.65"/><circle cx="546.8" cy="452.0" r="1.65"/><circle cx="547.0" cy="452.4" r="1.65"/><circle cx="547.9" cy="453.3" r="1.65"/><circle cx="548.3" cy="453.7" r="1.65"/><circle cx="549.0" cy="453.9" r="1.65"/><circle cx="549.6" cy="454.0" r="1.65"/><circle cx="550.5" cy="454.3" r="1.65"/><circle cx="551.0" cy="454.9" r="1.65"/><circle cx="551.4" cy="455.8" r="1.65"/><circle cx="551.7" cy="455.1" r="1.65"/><circle cx="552.8" cy="456.0" r="1.65"/><circle cx="552.9" cy="455.1" r="1.65"/><circle cx="553.9" cy="455.3" r="1.65"/><circle cx="554.5" cy="454.6" r="1.65"/><circle cx="555.0" cy="454.5" r="1.65"/><circle cx="555.9" cy="454.9" r="1.65"/><circle cx="556.6" cy="455.0" r="1.65"/><circle cx="557.5" cy="454.3" r="1.65"/><circle cx="558.1" cy="454.1" r="1.65"/><circle cx="559.1" cy="454.6" r="1.65"/><circle cx="559.5" cy="455.0" r="1.65"/><circle cx="560.5" cy="455.0" r="1.65"/><circle cx="560.8" cy="455.6" r="1.65"/><circle cx="561.9" cy="455.7" r="1.65"/><circle cx="562.4" cy="455.3" r="1.65"/><circle cx="562.9" cy="455.5" r="1.65"/><circle cx="563.6" cy="455.8" r="1.65"/><circle cx="564.6" cy="455.4" r="1.65"/><circle cx="565.4" cy="455.4" r="1.65"/><circle cx="565.7" cy="455.9" r="1.65"/><circle cx="566.9" cy="456.4" r="1.65"/><circle cx="567.4" cy="456.5" r="1.65"/><circle cx="568.1" cy="457.2" r="1.65"/><circle cx="568.7" cy="456.8" r="1.65"/><circle cx="569.7" cy="457.3" r="1.65"/><circle cx="570.6" cy="457.3" r="1.65"/><circle cx="571.2" cy="457.3" r="1.65"/><circle cx="571.7" cy="457.3" r="1.65"/><circle cx="572.2" cy="458.3" r="1.65"/><circle cx="573.2" cy="458.4" r="1.65"/><circle cx="573.4" cy="458.3" r="1.65"/><circle cx="574.5" cy="458.7" r="1.65"/><circle cx="574.9" cy="458.9" r="1.65"/><circle cx="575.3" cy="459.3" r="1.65"/><circle cx="576.4" cy="459.5" r="1.65"/><circle cx="576.6" cy="460.0" r="1.65"/><circle cx="577.6" cy="461.2" r="1.65"/><circle cx="578.1" cy="461.2" r="1.65"/><circle cx="578.5" cy="460.8" r="1.65"/><circle cx="579.1" cy="461.2" r="1.65"/><circle cx="579.9" cy="461.0" r="1.65"/><circle cx="580.5" cy="461.6" r="1.65"/><circle cx="580.4" cy="511.0" r="1.65"/><circle cx="581.2" cy="204.0" r="1.65"/><circle cx="581.5" cy="161.6" r="1.65"/><circle cx="581.8" cy="204.0" r="1.65"/><circle cx="581.5" cy="207.9" r="1.65"/><circle cx="582.3" cy="581.9" r="1.65"/><circle cx="582.8" cy="474.8" r="1.65"/><circle cx="582.6" cy="462.0" r="1.65"/><circle cx="583.1" cy="461.4" r="1.65"/><circle cx="584.0" cy="462.0" r="1.65"/><circle cx="584.5" cy="463.1" r="1.65"/><circle cx="583.8" cy="464.2" r="1.65"/><circle cx="583.9" cy="463.8" r="1.65"/><circle cx="584.8" cy="465.2" r="1.65"/><circle cx="584.7" cy="465.2" r="1.65"/><circle cx="584.6" cy="466.0" r="1.65"/><circle cx="584.9" cy="466.1" r="1.65"/><circle cx="585.4" cy="465.1" r="1.65"/><circle cx="586.3" cy="464.6" r="1.65"/><circle cx="587.0" cy="465.3" r="1.65"/><circle cx="587.5" cy="465.6" r="1.65"/><circle cx="588.4" cy="464.9" r="1.65"/><circle cx="589.0" cy="464.6" r="1.65"/><circle cx="589.5" cy="464.4" r="1.65"/><circle cx="589.6" cy="465.2" r="1.65"/><circle cx="590.3" cy="466.1" r="1.65"/><circle cx="591.1" cy="466.1" r="1.65"/><circle cx="591.2" cy="467.3" r="1.65"/><circle cx="591.6" cy="467.5" r="1.65"/><circle cx="592.0" cy="467.6" r="1.65"/><circle cx="592.7" cy="469.4" r="1.65"/><circle cx="593.2" cy="469.7" r="1.65"/><circle cx="593.7" cy="470.2" r="1.65"/><circle cx="593.8" cy="470.5" r="1.65"/><circle cx="594.3" cy="471.0" r="1.65"/><circle cx="594.1" cy="472.1" r="1.65"/><circle cx="594.1" cy="472.1" r="1.65"/><circle cx="595.4" cy="473.6" r="1.65"/><circle cx="595.5" cy="472.8" r="1.65"/><circle cx="595.5" cy="474.0" r="1.65"/><circle cx="596.1" cy="474.5" r="1.65"/><circle cx="596.2" cy="475.4" r="1.65"/><circle cx="597.1" cy="476.8" r="1.65"/><circle cx="597.0" cy="476.1" r="1.65"/><circle cx="598.5" cy="475.4" r="1.65"/><circle cx="598.7" cy="477.3" r="1.65"/><circle cx="599.3" cy="476.0" r="1.65"/><circle cx="598.3" cy="476.7" r="1.65"/><circle cx="598.2" cy="477.9" r="1.65"/><circle cx="599.0" cy="477.7" r="1.65"/><circle cx="597.5" cy="478.4" r="1.65"/><circle cx="597.8" cy="479.4" r="1.65"/><circle cx="597.5" cy="479.7" r="1.65"/><circle cx="597.6" cy="479.9" r="1.65"/><circle cx="596.7" cy="481.7" r="1.65"/><circle cx="596.1" cy="481.5" r="1.65"/><circle cx="596.2" cy="481.5" r="1.65"/><circle cx="596.7" cy="482.4" r="1.65"/><circle cx="596.9" cy="483.1" r="1.65"/><circle cx="597.8" cy="480.4" r="1.65"/><circle cx="598.3" cy="481.5" r="1.65"/><circle cx="598.5" cy="481.7" r="1.65"/><circle cx="599.8" cy="482.6" r="1.65"/><circle cx="600.5" cy="482.1" r="1.65"/><circle cx="600.4" cy="482.0" r="1.65"/><circle cx="600.4" cy="484.0" r="1.65"/><circle cx="601.6" cy="484.0" r="1.65"/><circle cx="600.6" cy="485.4" r="1.65"/><circle cx="601.0" cy="484.3" r="1.65"/><circle cx="600.7" cy="486.6" r="1.65"/><circle cx="601.9" cy="486.8" r="1.65"/><circle cx="601.5" cy="487.2" r="1.65"/><circle cx="601.7" cy="487.6" r="1.65"/><circle cx="601.8" cy="488.6" r="1.65"/><circle cx="602.5" cy="487.2" r="1.65"/><circle cx="603.7" cy="487.3" r="1.65"/><circle cx="603.7" cy="485.3" r="1.65"/><circle cx="604.4" cy="484.4" r="1.65"/><circle cx="604.8" cy="485.1" r="1.65"/><circle cx="604.9" cy="485.9" r="1.65"/><circle cx="605.1" cy="486.7" r="1.65"/><circle cx="605.2" cy="487.5" r="1.65"/><circle cx="605.3" cy="488.3" r="1.65"/><circle cx="605.5" cy="489.2" r="1.65"/><circle cx="605.6" cy="490.0" r="1.65"/><circle cx="605.7" cy="490.8" r="1.65"/><circle cx="605.9" cy="491.6" r="1.65"/><circle cx="606.0" cy="492.4" r="1.65"/><circle cx="607.2" cy="498.5" r="1.65"/><circle cx="607.8" cy="502.2" r="1.65"/><circle cx="608.8" cy="506.5" r="1.65"/><circle cx="609.0" cy="512.0" r="1.65"/><circle cx="609.6" cy="512.2" r="1.65"/><circle cx="610.4" cy="514.1" r="1.65"/><circle cx="609.7" cy="514.6" r="1.65"/><circle cx="611.2" cy="515.0" r="1.65"/><circle cx="610.6" cy="515.7" r="1.65"/><circle cx="611.7" cy="514.2" r="1.65"/><circle cx="611.9" cy="516.0" r="1.65"/><circle cx="611.5" cy="517.8" r="1.65"/><circle cx="612.5" cy="516.7" r="1.65"/><circle cx="612.0" cy="517.0" r="1.65"/><circle cx="612.4" cy="519.3" r="1.65"/><circle cx="612.8" cy="518.4" r="1.65"/><circle cx="613.7" cy="520.7" r="1.65"/><circle cx="613.4" cy="520.6" r="1.65"/><circle cx="613.1" cy="522.4" r="1.65"/><circle cx="613.9" cy="522.9" r="1.65"/><circle cx="614.1" cy="523.9" r="1.65"/><circle cx="614.4" cy="524.5" r="1.65"/><circle cx="614.2" cy="524.4" r="1.65"/><circle cx="613.4" cy="520.6" r="1.65"/><circle cx="611.2" cy="527.4" r="1.65"/><circle cx="609.6" cy="531.3" r="1.65"/><circle cx="610.1" cy="542.4" r="1.65"/><circle cx="610.9" cy="556.7" r="1.65"/><circle cx="610.4" cy="562.5" r="1.65"/><circle cx="610.4" cy="569.8" r="1.65"/><circle cx="612.4" cy="521.5" r="1.65"/><circle cx="614.2" cy="524.4" r="1.65"/><circle cx="614.3" cy="525.5" r="1.65"/><circle cx="615.2" cy="526.2" r="1.65"/><circle cx="615.5" cy="527.2" r="1.65"/><circle cx="616.1" cy="526.2" r="1.65"/><circle cx="616.5" cy="527.4" r="1.65"/><circle cx="616.2" cy="527.2" r="1.65"/><circle cx="616.5" cy="527.8" r="1.65"/><circle cx="616.5" cy="528.8" r="1.65"/><circle cx="616.5" cy="530.5" r="1.65"/><circle cx="616.9" cy="531.1" r="1.65"/><circle cx="617.4" cy="532.7" r="1.65"/><circle cx="617.2" cy="533.3" r="1.65"/><circle cx="618.2" cy="533.2" r="1.65"/><circle cx="618.9" cy="534.6" r="1.65"/><circle cx="619.1" cy="534.3" r="1.65"/><circle cx="618.5" cy="540.4" r="1.65"/><circle cx="619.5" cy="548.8" r="1.65"/><circle cx="621.1" cy="550.3" r="1.65"/><circle cx="620.3" cy="554.1" r="1.65"/><circle cx="619.5" cy="560.2" r="1.65"/><circle cx="622.3" cy="557.9" r="1.65"/><circle cx="621.8" cy="561.0" r="1.65"/><circle cx="621.5" cy="563.3" r="1.65"/><circle cx="622.6" cy="542.7" r="1.65"/><circle cx="622.8" cy="541.3" r="1.65"/><circle cx="623.8" cy="539.3" r="1.65"/><circle cx="623.7" cy="538.9" r="1.65"/><circle cx="623.8" cy="538.0" r="1.65"/><circle cx="623.1" cy="536.7" r="1.65"/><circle cx="623.7" cy="536.1" r="1.65"/><circle cx="623.3" cy="535.0" r="1.65"/><circle cx="623.4" cy="532.8" r="1.65"/><circle cx="624.1" cy="531.7" r="1.65"/><circle cx="625.3" cy="529.8" r="1.65"/><circle cx="625.6" cy="529.7" r="1.65"/><circle cx="626.1" cy="528.6" r="1.65"/><circle cx="626.0" cy="527.8" r="1.65"/><circle cx="626.3" cy="525.7" r="1.65"/><circle cx="626.7" cy="524.4" r="1.65"/><circle cx="629.8" cy="529.0" r="1.65"/><circle cx="630.2" cy="523.6" r="1.65"/><circle cx="628.7" cy="516.0" r="1.65"/><circle cx="630.2" cy="517.5" r="1.65"/><circle cx="628.7" cy="509.9" r="1.65"/><circle cx="631.0" cy="506.9" r="1.65"/><circle cx="634.3" cy="510.7" r="1.65"/><circle cx="634.3" cy="515.2" r="1.65"/><circle cx="630.8" cy="500.5" r="1.65"/><circle cx="631.3" cy="501.6" r="1.65"/><circle cx="631.3" cy="501.2" r="1.65"/><circle cx="632.0" cy="502.0" r="1.65"/><circle cx="632.5" cy="502.3" r="1.65"/><circle cx="633.4" cy="501.8" r="1.65"/><circle cx="633.9" cy="502.0" r="1.65"/><circle cx="634.0" cy="502.2" r="1.65"/><circle cx="634.3" cy="501.1" r="1.65"/><circle cx="634.7" cy="502.2" r="1.65"/><circle cx="635.2" cy="501.3" r="1.65"/><circle cx="635.3" cy="500.0" r="1.65"/><circle cx="636.0" cy="494.0" r="1.65"/><circle cx="635.9" cy="492.9" r="1.65"/><circle cx="635.9" cy="493.2" r="1.65"/><circle cx="636.6" cy="493.2" r="1.65"/><circle cx="635.8" cy="492.5" r="1.65"/><circle cx="637.2" cy="491.4" r="1.65"/><circle cx="636.0" cy="490.0" r="1.65"/><circle cx="636.1" cy="489.1" r="1.65"/><circle cx="637.7" cy="489.9" r="1.65"/><circle cx="637.1" cy="489.0" r="1.65"/><circle cx="637.5" cy="490.5" r="1.65"/><circle cx="638.1" cy="490.5" r="1.65"/><circle cx="637.8" cy="491.1" r="1.65"/><circle cx="638.1" cy="491.5" r="1.65"/><circle cx="638.3" cy="490.8" r="1.65"/><circle cx="638.4" cy="492.2" r="1.65"/><circle cx="638.8" cy="491.6" r="1.65"/><circle cx="638.0" cy="491.9" r="1.65"/><circle cx="639.2" cy="495.3" r="1.65"/><circle cx="638.9" cy="494.5" r="1.65"/><circle cx="638.9" cy="493.6" r="1.65"/><circle cx="638.9" cy="494.4" r="1.65"/><circle cx="638.2" cy="492.2" r="1.65"/><circle cx="637.5" cy="492.2" r="1.65"/><circle cx="637.5" cy="492.0" r="1.65"/><circle cx="637.5" cy="491.3" r="1.65"/><circle cx="638.3" cy="492.5" r="1.65"/><circle cx="637.7" cy="490.9" r="1.65"/><circle cx="638.0" cy="489.1" r="1.65"/><circle cx="639.5" cy="490.1" r="1.65"/><circle cx="640.0" cy="489.3" r="1.65"/><circle cx="639.6" cy="489.0" r="1.65"/><circle cx="638.8" cy="489.2" r="1.65"/><circle cx="639.8" cy="491.5" r="1.65"/><circle cx="640.4" cy="490.6" r="1.65"/><circle cx="639.5" cy="489.9" r="1.65"/><circle cx="639.9" cy="490.8" r="1.65"/><circle cx="639.2" cy="490.7" r="1.65"/><circle cx="638.9" cy="493.4" r="1.65"/><circle cx="639.1" cy="494.9" r="1.65"/><circle cx="639.1" cy="495.1" r="1.65"/><circle cx="639.2" cy="492.9" r="1.65"/><circle cx="639.8" cy="495.0" r="1.65"/>
<circle cx="117.3" cy="394.0" r="1.65"/><circle cx="163.2" cy="566.2" r="1.65"/><circle cx="164.8" cy="566.0" r="1.65"/><circle cx="166.3" cy="566.2" r="1.65"/><circle cx="166.7" cy="567.5" r="1.65"/><circle cx="165.8" cy="567.2" r="1.65"/><circle cx="276.5" cy="57.2" r="1.65"/><circle cx="276.5" cy="418.7" r="1.65"/><circle cx="236.1" cy="468.5" r="1.65"/><circle cx="237.3" cy="483.8" r="1.65"/><circle cx="302.3" cy="51.2" r="1.65"/><circle cx="374.3" cy="528.6" r="1.65"/><circle cx="373.0" cy="531.0" r="1.65"/><circle cx="374.2" cy="532.5" r="1.65"/><circle cx="377.5" cy="497.5" r="1.65"/><circle cx="377.2" cy="500.5" r="1.65"/><circle cx="377.8" cy="503.5" r="1.65"/><circle cx="377.0" cy="506.5" r="1.65"/><circle cx="392.8" cy="492.0" r="1.65"/><circle cx="393.5" cy="496.0" r="1.65"/><circle cx="394.2" cy="499.5" r="1.65"/><circle cx="395.8" cy="494.0" r="1.65"/><circle cx="391.2" cy="492.0" r="1.65"/><circle cx="393.0" cy="501.0" r="1.65"/><circle cx="350.6" cy="441.7" r="1.65"/><circle cx="350.4" cy="444.9" r="1.65"/><circle cx="350.4" cy="447.9" r="1.65"/><circle cx="351.2" cy="440.0" r="1.65"/><circle cx="352.5" cy="439.5" r="1.65"/><circle cx="353.5" cy="440.2" r="1.65"/><circle cx="325.8" cy="412.5" r="1.65"/><circle cx="415.2" cy="444.6" r="1.65"/><circle cx="421.6" cy="448.8" r="1.65"/><circle cx="416.1" cy="458.2" r="1.65"/><circle cx="429.6" cy="465.7" r="1.65"/><circle cx="429.6" cy="469.8" r="1.65"/><circle cx="497.1" cy="452.8" r="1.65"/><circle cx="522.1" cy="461.2" r="1.65"/><circle cx="533.9" cy="452.5" r="1.65"/><circle cx="536.5" cy="457.8" r="1.65"/><circle cx="546.1" cy="455.1" r="1.65"/>
</g>
<g stroke="#000" stroke-width="1" shape-rendering="crispEdges" fill="none">
<rect x="84.5" y="48.5" width="556" height="548"/>
<line x1="80.0" y1="582.5" x2="84.5" y2="582.5"/>
<line x1="80.0" y1="571.5" x2="84.5" y2="571.5"/>
<line x1="80.0" y1="562.5" x2="84.5" y2="562.5"/>
<line x1="80.0" y1="553.5" x2="84.5" y2="553.5"/>
<line x1="76.0" y1="546.5" x2="84.5" y2="546.5"/>
<line x1="80.0" y1="496.5" x2="84.5" y2="496.5"/>
<line x1="80.0" y1="466.5" x2="84.5" y2="466.5"/>
<line x1="80.0" y1="446.5" x2="84.5" y2="446.5"/>
<line x1="80.0" y1="429.5" x2="84.5" y2="429.5"/>
<line x1="80.0" y1="416.5" x2="84.5" y2="416.5"/>
<line x1="80.0" y1="405.5" x2="84.5" y2="405.5"/>
<line x1="80.0" y1="396.5" x2="84.5" y2="396.5"/>
<line x1="80.0" y1="387.5" x2="84.5" y2="387.5"/>
<line x1="76.0" y1="380.5" x2="84.5" y2="380.5"/>
<line x1="80.0" y1="330.5" x2="84.5" y2="330.5"/>
<line x1="80.0" y1="300.5" x2="84.5" y2="300.5"/>
<line x1="80.0" y1="280.5" x2="84.5" y2="280.5"/>
<line x1="80.0" y1="263.5" x2="84.5" y2="263.5"/>
<line x1="80.0" y1="250.5" x2="84.5" y2="250.5"/>
<line x1="80.0" y1="239.5" x2="84.5" y2="239.5"/>
<line x1="80.0" y1="230.5" x2="84.5" y2="230.5"/>
<line x1="80.0" y1="221.5" x2="84.5" y2="221.5"/>
<line x1="76.0" y1="214.5" x2="84.5" y2="214.5"/>
<line x1="80.0" y1="164.5" x2="84.5" y2="164.5"/>
<line x1="80.0" y1="134.5" x2="84.5" y2="134.5"/>
<line x1="80.0" y1="114.5" x2="84.5" y2="114.5"/>
<line x1="80.0" y1="97.5" x2="84.5" y2="97.5"/>
<line x1="80.0" y1="84.5" x2="84.5" y2="84.5"/>
<line x1="80.0" y1="73.5" x2="84.5" y2="73.5"/>
<line x1="80.0" y1="64.5" x2="84.5" y2="64.5"/>
<line x1="80.0" y1="55.5" x2="84.5" y2="55.5"/>
<line x1="76.0" y1="48.5" x2="84.5" y2="48.5"/>
<line x1="84.5" y1="596.5" x2="84.5" y2="605.0"/>
<line x1="107.5" y1="596.5" x2="107.5" y2="600.5"/>
<line x1="130.5" y1="596.5" x2="130.5" y2="600.5"/>
<line x1="153.5" y1="596.5" x2="153.5" y2="600.5"/>
<line x1="176.5" y1="596.5" x2="176.5" y2="600.5"/>
<line x1="199.5" y1="596.5" x2="199.5" y2="600.5"/>
<line x1="223.5" y1="596.5" x2="223.5" y2="605.0"/>
<line x1="246.5" y1="596.5" x2="246.5" y2="600.5"/>
<line x1="269.5" y1="596.5" x2="269.5" y2="600.5"/>
<line x1="292.5" y1="596.5" x2="292.5" y2="600.5"/>
<line x1="315.5" y1="596.5" x2="315.5" y2="600.5"/>
<line x1="338.5" y1="596.5" x2="338.5" y2="600.5"/>
<line x1="362.5" y1="596.5" x2="362.5" y2="605.0"/>
<line x1="385.5" y1="596.5" x2="385.5" y2="600.5"/>
<line x1="408.5" y1="596.5" x2="408.5" y2="600.5"/>
<line x1="431.5" y1="596.5" x2="431.5" y2="600.5"/>
<line x1="454.5" y1="596.5" x2="454.5" y2="600.5"/>
<line x1="477.5" y1="596.5" x2="477.5" y2="600.5"/>
<line x1="501.5" y1="596.5" x2="501.5" y2="605.0"/>
<line x1="524.5" y1="596.5" x2="524.5" y2="600.5"/>
<line x1="547.5" y1="596.5" x2="547.5" y2="600.5"/>
<line x1="570.5" y1="596.5" x2="570.5" y2="600.5"/>
<line x1="593.5" y1="596.5" x2="593.5" y2="600.5"/>
<line x1="616.5" y1="596.5" x2="616.5" y2="600.5"/>
<line x1="640.5" y1="596.5" x2="640.5" y2="605.0"/>
</g>
<g font-family="Liberation Sans, sans-serif" font-size="12.6" letter-spacing="0.45" fill="#000">
<text x="101.98" y="39" textLength="27.63" lengthAdjust="spacingAndGlyphs">MAG</text>
<text x="136.78" y="39" textLength="78.13" lengthAdjust="spacingAndGlyphs">B-Magnitude</text>
<text x="219.05" y="39" textLength="14.20" lengthAdjust="spacingAndGlyphs">by</text>
<text x="236.95" y="39" textLength="47.03" lengthAdjust="spacingAndGlyphs">Method</text>
<text x="288.20" y="39" textLength="7.50" lengthAdjust="spacingAndGlyphs">1</text>
<text x="300.66" y="39" textLength="28.41" lengthAdjust="spacingAndGlyphs">(F1):</text>
<text x="333.64" y="39" textLength="15.77" lengthAdjust="spacingAndGlyphs">48</text>
<text x="353.40" y="39" textLength="46.62" lengthAdjust="spacingAndGlyphs">second</text>
<text x="403.34" y="39" textLength="54.12" lengthAdjust="spacingAndGlyphs">average</text>
<text x="459.50" y="39" textLength="11.51" lengthAdjust="spacingAndGlyphs">of</text>
<text x="473.84" y="39" textLength="20.01" lengthAdjust="spacingAndGlyphs">9.6</text>
<text x="498.30" y="39" textLength="46.62" lengthAdjust="spacingAndGlyphs">second</text>
<text x="547.57" y="39" textLength="74.35" lengthAdjust="spacingAndGlyphs">magnitudes</text>
<text x="47.80" y="56" textLength="16.41" lengthAdjust="spacingAndGlyphs">10</text>
<text x="64.66" y="50" textLength="7.26" lengthAdjust="spacingAndGlyphs">4</text>
<text x="47.80" y="222" textLength="16.41" lengthAdjust="spacingAndGlyphs">10</text>
<text x="64.38" y="216" textLength="7.84" lengthAdjust="spacingAndGlyphs">3</text>
<text x="47.80" y="388" textLength="16.41" lengthAdjust="spacingAndGlyphs">10</text>
<text x="63.90" y="382" textLength="8.31" lengthAdjust="spacingAndGlyphs">2</text>
<text x="47.80" y="554" textLength="16.41" lengthAdjust="spacingAndGlyphs">10</text>
<text x="64.23" y="548" textLength="7.23" lengthAdjust="spacingAndGlyphs">1</text>
<text x="65.96" y="620" textLength="36.29" lengthAdjust="spacingAndGlyphs">00:00</text>
<text x="204.96" y="620" textLength="36.29" lengthAdjust="spacingAndGlyphs">06:00</text>
<text x="343.62" y="620" textLength="36.55" lengthAdjust="spacingAndGlyphs">12:00</text>
<text x="482.61" y="620" textLength="36.65" lengthAdjust="spacingAndGlyphs">18:00</text>
<text x="621.96" y="620" textLength="36.29" lengthAdjust="spacingAndGlyphs">00:00</text>
<text x="65.75" y="632" textLength="72.66" lengthAdjust="spacingAndGlyphs">1979-03-06</text>
<text x="621.75" y="632" textLength="72.66" lengthAdjust="spacingAndGlyphs">1979-03-07</text>
<g transform="translate(39,389) rotate(-90)"><text x="-1.03" y="0" textLength="78.44" lengthAdjust="spacingAndGlyphs">B-Magnitude</text><text x="81.24" y="0" textLength="25.14" lengthAdjust="spacingAndGlyphs">(F1)</text><text x="110.34" y="0" textLength="25.35" lengthAdjust="spacingAndGlyphs">(nT)</text></g>
</g>
</svg>
</body></html>
